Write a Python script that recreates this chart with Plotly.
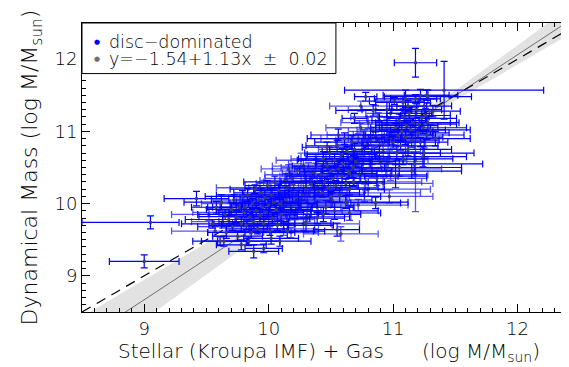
import plotly.graph_objects as go

# ---------------- data ----------------
# disc-dominated galaxies: x = stellar+gas mass, y = dynamical mass (log Msun)
# solid-blue error-bar points
disc_x = [9.00, 9.05, 9.42, 11.18, 11.41, 10.78, 11.01, 11.02,
          9.55, 9.58, 9.62, 9.65, 9.66, 9.68, 9.70, 9.71, 9.72, 9.74, 9.75, 9.76, 9.78, 9.79, 9.80,
          9.64, 9.61, 9.78, 9.84, 9.88, 9.96, 10.02, 10.09, 10.15, 10.30, 10.39, 10.55, 10.65, 10.86,
          9.81, 9.82, 9.83, 9.85, 9.86, 9.87, 9.88, 9.89, 9.90, 9.91, 9.92, 9.93, 9.94, 9.95, 9.96,
          9.97, 9.98, 9.99, 10.00, 10.01, 10.02, 10.03, 10.04, 10.05, 10.06, 10.07, 10.08, 10.09, 10.10,
          10.42, 10.43, 10.44, 10.45, 10.46, 10.47, 10.48, 10.49, 10.50, 10.51, 10.52, 10.53, 10.54,
          10.55, 10.56, 10.57, 10.58, 10.59, 10.60, 10.61, 10.62, 10.63, 10.64, 10.65, 10.66, 10.67,
          10.68, 10.69, 10.70, 10.44, 10.50, 10.56, 10.62, 10.68, 10.47, 10.53, 10.59, 10.65,
          11.00, 11.02, 11.03, 11.04, 11.05, 11.06, 11.07, 11.08, 11.09, 11.10, 11.11, 11.12, 11.13,
          11.14, 11.15, 11.16, 11.17, 11.19, 11.20, 11.21, 11.22, 11.23, 11.24, 11.25, 11.26, 11.27,
          11.28, 11.30, 11.32, 11.34, 11.05, 11.12, 11.18, 11.24, 11.08, 11.15, 11.27,
          10.95, 11.10, 11.22, 11.25, 11.28, 10.69, 10.84]
disc_y = [9.20, 9.74, 10.07, 11.95, 11.57, 11.48, 11.42, 10.38,
          9.72, 9.95, 10.02, 9.85, 9.60, 9.78, 9.92, 9.68, 10.05, 9.82, 9.55, 9.95, 9.72, 10.10, 9.88,
          9.48, 9.48, 9.43, 9.48, 9.34, 9.38, 9.52, 9.48, 9.62, 9.73, 9.80, 9.64, 9.87, 10.01,
          9.95, 9.70, 10.12, 9.82, 9.60, 10.00, 9.75, 10.20, 9.90, 9.65, 10.05, 9.84, 10.15, 9.95, 9.72,
          10.08, 9.88, 10.25, 9.98, 9.62, 10.12, 9.80, 10.02, 10.30, 9.92, 9.70, 10.18, 10.00, 9.85,
          10.40, 10.15, 10.62, 10.30, 9.95, 10.52, 10.22, 10.70, 10.45, 10.05, 10.35, 10.60, 10.25,
          10.80, 10.48, 10.12, 10.65, 10.38, 10.55, 10.90, 10.28, 10.72, 10.45, 10.20, 10.62, 10.85,
          10.50, 10.75, 10.58, 9.85, 10.10, 10.95, 10.02, 10.30, 10.78, 9.90, 10.68, 10.42,
          10.85, 11.05, 10.70, 10.95, 11.15, 10.80, 11.00, 10.62, 11.20, 10.92, 11.08, 10.75, 11.25,
          11.02, 10.88, 11.12, 10.55, 11.30, 10.98, 11.10, 10.85, 11.18, 11.05, 10.70, 11.22, 10.95,
          11.12, 11.02, 11.28, 10.90, 10.50, 11.35, 11.45, 10.65, 11.40, 10.45, 11.50,
          11.30, 11.45, 11.50, 11.35, 11.48, 11.18, 11.29]
disc_xp = [0.28, 0.23, 0.26, 0.17, 0.80, 0.09, 0.20, 0.25,
           0.25, 0.20, 0.30, 0.22, 0.15, 0.35, 0.20, 0.28, 0.18, 0.30, 0.20, 0.25, 0.22, 0.30, 0.20,
           0.18, 0.22, 0.20, 0.25, 0.20, 0.15, 0.22, 0.25, 0.30, 0.20, 0.22, 0.18, 0.25, 0.20,
           0.20, 0.30, 0.25, 0.22, 0.35, 0.18, 0.28, 0.20, 0.32, 0.25, 0.20, 0.30, 0.22, 0.40, 0.25,
           0.20, 0.30, 0.18, 0.26, 0.35, 0.22, 0.30, 0.20, 0.25, 0.28, 0.45, 0.20, 0.30, 0.24,
           0.25, 0.30, 0.20, 0.35, 0.22, 0.28, 0.40, 0.20, 0.25, 0.32, 0.22, 0.30, 0.18,
           0.25, 0.35, 0.20, 0.28, 0.45, 0.22, 0.30, 0.25, 0.20, 0.35, 0.28, 0.22, 0.30,
           0.25, 0.20, 0.32, 0.30, 0.40, 0.22, 0.50, 0.25, 0.20, 0.35, 0.28, 0.22,
           0.25, 0.20, 0.35, 0.28, 0.22, 0.30, 0.25, 0.40, 0.20, 0.30, 0.25, 0.35, 0.18,
           0.28, 0.22, 0.30, 0.55, 0.20, 0.25, 0.30, 0.22, 0.28, 0.35, 0.40, 0.20, 0.30,
           0.25, 0.32, 0.22, 0.28, 0.50, 0.15, 0.20, 0.35, 0.22, 0.40, 0.18,
           0.20, 0.25, 0.30, 0.22, 0.35, 0.10, 0.30]
disc_xm = [0.28, 0.55, 0.26, 0.17, 0.80, 0.09, 0.20, 0.25,
           0.25, 0.20, 0.30, 0.22, 0.15, 0.35, 0.20, 0.28, 0.18, 0.30, 0.20, 0.25, 0.22, 0.30, 0.20,
           0.18, 0.22, 0.20, 0.25, 0.20, 0.15, 0.22, 0.25, 0.30, 0.20, 0.22, 0.18, 0.25, 0.20,
           0.20, 0.30, 0.25, 0.22, 0.35, 0.18, 0.28, 0.20, 0.32, 0.25, 0.20, 0.30, 0.22, 0.40, 0.25,
           0.20, 0.30, 0.18, 0.26, 0.35, 0.22, 0.30, 0.20, 0.25, 0.28, 0.45, 0.20, 0.30, 0.24,
           0.25, 0.30, 0.20, 0.35, 0.22, 0.28, 0.40, 0.20, 0.25, 0.32, 0.22, 0.30, 0.18,
           0.25, 0.35, 0.20, 0.28, 0.45, 0.22, 0.30, 0.25, 0.20, 0.35, 0.28, 0.22, 0.30,
           0.25, 0.20, 0.32, 0.30, 0.40, 0.22, 0.50, 0.25, 0.20, 0.35, 0.28, 0.22,
           0.25, 0.20, 0.35, 0.28, 0.22, 0.30, 0.25, 0.40, 0.20, 0.30, 0.25, 0.35, 0.18,
           0.28, 0.22, 0.30, 0.55, 0.20, 0.25, 0.30, 0.22, 0.28, 0.35, 0.40, 0.20, 0.30,
           0.25, 0.32, 0.22, 0.28, 0.50, 0.15, 0.20, 0.35, 0.22, 0.40, 0.18,
           0.20, 0.25, 0.30, 0.22, 0.35, 0.10, 0.30]
disc_ye = [0.09, 0.09, 0.10, 0.20, 0.40, 0.06, 0.05, 0.16,
           0.06, 0.08, 0.10, 0.07, 0.08, 0.06, 0.09, 0.05, 0.07, 0.08, 0.07, 0.06, 0.10, 0.08, 0.06,
           0.07, 0.06, 0.07, 0.06, 0.09, 0.06, 0.08, 0.07, 0.10, 0.12, 0.08, 0.09, 0.10, 0.08,
           0.07, 0.06, 0.09, 0.05, 0.08, 0.07, 0.10, 0.06, 0.08, 0.07, 0.05, 0.09, 0.06, 0.08, 0.07,
           0.10, 0.06, 0.07, 0.08, 0.06, 0.09, 0.07, 0.05, 0.08, 0.06, 0.07, 0.09, 0.06, 0.08,
           0.08, 0.06, 0.10, 0.07, 0.09, 0.06, 0.12, 0.08, 0.07, 0.10, 0.06, 0.09, 0.07,
           0.08, 0.06, 0.10, 0.07, 0.09, 0.15, 0.08, 0.06, 0.07, 0.10, 0.08, 0.06, 0.09,
           0.07, 0.08, 0.06, 0.10, 0.07, 0.08, 0.09, 0.06, 0.07, 0.12, 0.08, 0.06,
           0.08, 0.06, 0.10, 0.07, 0.09, 0.06, 0.12, 0.08, 0.07, 0.10, 0.06, 0.09, 0.08,
           0.07, 0.10, 0.06, 0.15, 0.08, 0.07, 0.09, 0.06, 0.12, 0.08, 0.07, 0.10, 0.06,
           0.09, 0.07, 0.08, 0.10, 0.12, 0.08, 0.06, 0.14, 0.08, 0.10, 0.07,
           0.10, 0.12, 0.08, 0.10, 0.09, 0.07, 0.08]

# lighter (overlapping, semi-transparent) error-bar points
disc2_x = [11.18, 10.11, 10.12, 10.13, 10.14, 10.15, 10.16, 10.17, 10.18, 10.19, 10.20, 10.21,
           10.22, 10.23, 10.24, 10.25, 10.26, 10.27, 10.28, 10.29, 10.30, 10.31, 10.32, 10.33,
           10.34, 10.35, 10.36, 10.37, 10.38, 10.39, 10.40, 10.12, 10.16, 10.21, 10.26, 10.31,
           10.36, 10.14, 10.19, 10.24, 10.29, 10.34, 10.39, 10.18, 10.28, 10.38,
           10.71, 10.72, 10.73, 10.74, 10.75, 10.76, 10.77, 10.78, 10.79, 10.80, 10.81, 10.82,
           10.83, 10.84, 10.85, 10.86, 10.87, 10.88, 10.89, 10.90, 10.91, 10.92, 10.93, 10.94,
           10.95, 10.96, 10.97, 10.98, 10.99, 10.74, 10.80, 10.86, 10.92, 10.98, 10.77, 10.83,
           10.89, 10.95, 9.52, 9.57, 9.63, 9.69, 9.74, 9.93, 10.58, 10.72, 10.97]
disc2_y = [10.61, 10.10, 9.90, 10.32, 10.05, 9.78, 10.20, 10.40, 9.95, 10.15, 10.28, 9.85,
           10.08, 10.45, 10.18, 9.98, 10.30, 10.12, 9.72, 10.38, 10.22, 10.02, 10.50, 10.15,
           9.90, 10.35, 10.25, 10.08, 10.55, 10.30, 10.18, 9.65, 10.48, 9.70, 10.60, 9.82,
           10.42, 10.22, 10.35, 10.00, 10.10, 10.28, 9.95, 9.60, 10.52, 10.62,
           10.65, 10.90, 10.40, 11.05, 10.75, 10.55, 10.95, 10.30, 10.82, 11.12, 10.60, 10.88,
           10.45, 11.00, 10.70, 10.92, 10.35, 11.20, 10.80, 10.58, 11.02, 10.72, 10.95, 10.48,
           11.10, 10.85, 10.65, 11.25, 10.90, 11.35, 10.20, 11.30, 10.28, 10.40, 10.15, 10.62,
           11.15, 10.55, 9.85, 9.62, 9.75, 9.88, 10.00, 10.22, 9.58, 9.98, 10.10]
disc2_xe = [0.10, 0.25, 0.30, 0.20, 0.35, 0.22, 0.28, 0.20, 0.40, 0.25, 0.30, 0.22,
            0.28, 0.20, 0.35, 0.25, 0.30, 0.22, 0.45, 0.20, 0.28, 0.32, 0.22, 0.30,
            0.25, 0.20, 0.35, 0.28, 0.22, 0.30, 0.25, 0.28, 0.22, 0.30, 0.20, 0.35,
            0.25, 0.30, 0.22, 0.40, 0.28, 0.25, 0.30, 0.22, 0.25, 0.20,
            0.25, 0.30, 0.22, 0.28, 0.35, 0.20, 0.30, 0.45, 0.25, 0.22, 0.30, 0.28,
            0.35, 0.20, 0.25, 0.30, 0.40, 0.22, 0.28, 0.35, 0.20, 0.30, 0.25, 0.45,
            0.22, 0.30, 0.28, 0.20, 0.35, 0.25, 0.50, 0.22, 0.40, 0.30, 0.45, 0.25,
            0.20, 0.30, 0.30, 0.35, 0.25, 0.30, 0.28, 0.35, 0.30, 0.40, 0.35]
disc2_ye = [0.72, 0.07, 0.06, 0.09, 0.08, 0.07, 0.10, 0.06, 0.08, 0.07, 0.09, 0.06,
            0.08, 0.07, 0.10, 0.06, 0.08, 0.07, 0.09, 0.06, 0.08, 0.10, 0.07, 0.06,
            0.09, 0.08, 0.07, 0.12, 0.06, 0.08, 0.07, 0.09, 0.06, 0.08, 0.10, 0.07,
            0.06, 0.08, 0.09, 0.07, 0.06, 0.10, 0.08, 0.07, 0.09, 0.06,
            0.08, 0.07, 0.10, 0.06, 0.09, 0.08, 0.07, 0.12, 0.06, 0.08, 0.10, 0.07,
            0.09, 0.06, 0.08, 0.07, 0.10, 0.06, 0.09, 0.08, 0.07, 0.12, 0.06, 0.08,
            0.07, 0.10, 0.09, 0.06, 0.08, 0.07, 0.10, 0.06, 0.09, 0.08, 0.12, 0.07,
            0.06, 0.09, 0.08, 0.07, 0.09, 0.06, 0.08, 0.07, 0.10, 0.08, 0.09]

# fit line and its band (band half-width)
fit_intercept = -1.50
fit_slope = 1.13
band_x = [8.5, 9.0, 9.5, 10.0, 10.5, 11.0, 11.5, 12.0, 12.5]
band_half = [0.33, 0.28, 0.22, 0.16, 0.10, 0.06, 0.07, 0.13, 0.20]
one_to_one = [8.5, 12.5]

x_ticks = [9, 10, 11, 12]
y_ticks = [9, 10, 11, 12]
x_range = [8.5, 12.47]
y_range = [8.5, 12.5]

legend_labels = ["disc\u2212dominated", "y=\u22121.54+1.13x  \u00b1  0.02"]
legend_colors = ["#0000ff", "#707070"]

FONT = "DejaVu Sans"
WEIGHT = 200

# ---------------- figure ----------------
fig = go.Figure()

fit_y = [fit_intercept + fit_slope * v for v in band_x]
band_hi = [f + h for f, h in zip(fit_y, band_half)]
band_lo = [f - h for f, h in zip(fit_y, band_half)]

fig.add_trace(go.Scatter(x=band_x + band_x[::-1], y=band_hi + band_lo[::-1],
                         fill="toself", fillcolor="#e2e2e2", line=dict(width=0),
                         mode="lines", hoverinfo="skip", showlegend=False))
fig.add_trace(go.Scatter(x=band_x, y=fit_y, mode="lines",
                         line=dict(color="#6e6e6e", width=1), showlegend=False))
fig.add_trace(go.Scatter(x=one_to_one, y=one_to_one, mode="lines",
                         line=dict(color="black", width=1.2, dash="10px,7px"), showlegend=False))

fig.add_trace(go.Scatter(
    x=disc2_x, y=disc2_y, mode="markers",
    marker=dict(size=3.5, color="#3c3c6e"),
    error_x=dict(type="data", array=disc2_xe, color="rgba(20,20,255,0.72)", thickness=1.3, width=3.5),
    error_y=dict(type="data", array=disc2_ye, color="rgba(20,20,255,0.72)", thickness=1.3, width=3.5),
    showlegend=False))
fig.add_trace(go.Scatter(
    x=disc_x, y=disc_y, mode="markers",
    marker=dict(size=3.5, color="#3c3c6e"),
    error_x=dict(type="data", symmetric=False, array=disc_xp, arrayminus=disc_xm,
                 color="#0000ff", thickness=1.2, width=3.5),
    error_y=dict(type="data", array=disc_ye, color="#0000ff", thickness=1.2, width=3.5),
    showlegend=False))

# legend box drawn by hand to match the original placement
fig.add_shape(type="rect", xref="paper", yref="paper", x0=0, x1=0.514, y0=0.825, y1=1.0,
              line=dict(color="black", width=1), fillcolor="white", layer="above")
for i, (lab, col) in enumerate(zip(legend_labels, legend_colors)):
    yy = 0.933 - i * 0.058
    fig.add_annotation(xref="paper", yref="paper", x=0.030, y=yy, text="\u25cf",
                       showarrow=False, font=dict(size=7, color=col, family=FONT),
                       xanchor="center", yanchor="middle")
    fig.add_annotation(xref="paper", yref="paper", x=0.050, y=yy, text=lab,
                       showarrow=False, font=dict(size=17.5, color="black", family=FONT, weight=WEIGHT),
                       xanchor="left", yanchor="middle")

axis_common = dict(showline=True, linecolor="black", linewidth=1, mirror="ticks",
                   ticks="inside", ticklen=8, tickcolor="black", tickwidth=1,
                   showgrid=False, zeroline=False,
                   tickfont=dict(size=18, color="black", family=FONT, weight=WEIGHT),
                   minor=dict(dtick=0.1, ticks="inside", ticklen=4, tickcolor="black", showgrid=False))

fig.update_xaxes(range=x_range, tickvals=x_ticks, ticktext=[str(t) for t in x_ticks],
                 title=dict(text="Stellar (Kroupa IMF) + Gas" + "\u00a0" * 6 + "(log M/M<sub>sun</sub>)",
                            font=dict(size=20, color="black", family=FONT, weight=WEIGHT), standoff=0),
                 **axis_common)
fig.update_yaxes(range=y_range, tickvals=y_ticks, ticktext=[str(t) for t in y_ticks],
                 title=dict(text="Dynamical Mass (log M/M<sub>sun</sub>)",
                            font=dict(size=22, color="black", family=FONT, weight=WEIGHT), standoff=10),
                 **axis_common)

fig.update_layout(width=569, height=367, margin=dict(l=74, r=1, t=15, b=63),
                  paper_bgcolor="white", plot_bgcolor="white", showlegend=False,
                  font=dict(family=FONT, color="black"))

fig.write_html("out.html")
